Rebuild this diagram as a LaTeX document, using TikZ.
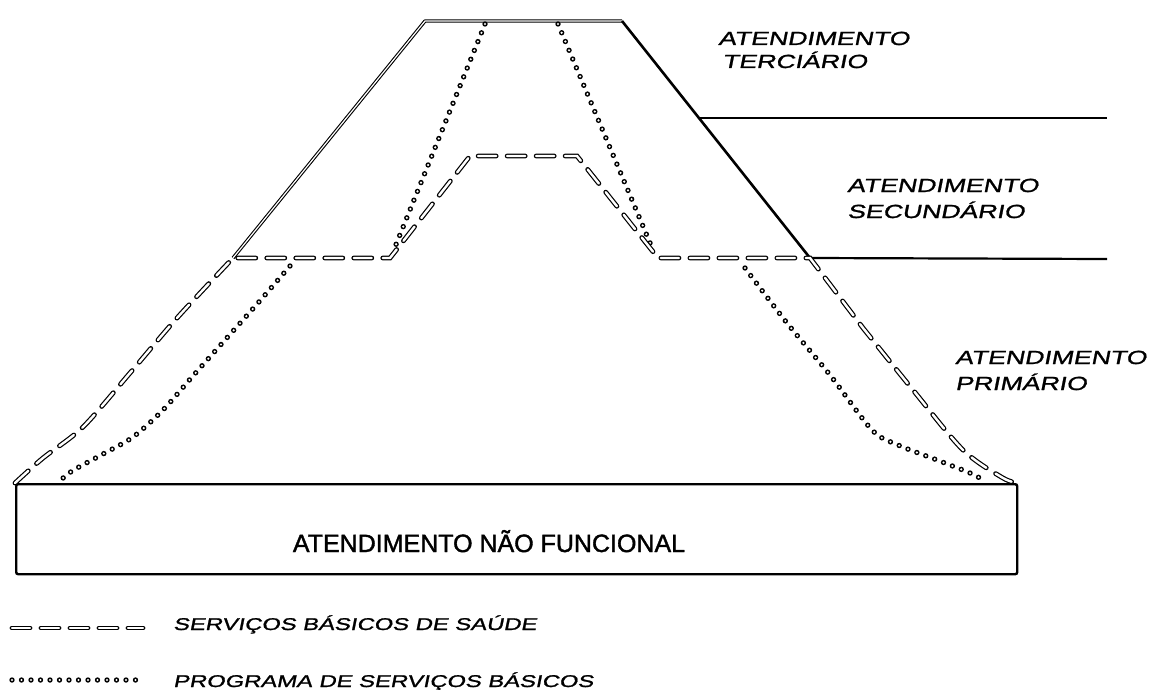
\documentclass[tikz,border=0pt]{standalone}
\usepackage{fontspec}
\newfontfamily\lblfont[FakeStretch=1.4,FakeSlant=0.2,FakeBold=1.2]{Liberation Sans}
\newfontfamily\boxfont[FakeBold=1.5]{Liberation Sans}
\tikzset{
  outline/.style={line width=1.1pt, double=white, double distance=1.2pt, line join=round},
  heavy/.style={line width=2.6pt},
  levelline/.style={line width=2.2pt},
  sbs/.style={line width=1.2pt, double=white, double distance=2.4pt, line cap=round, dash pattern=on 18pt off 11pt},
  psb/.style={line width=1.5pt, double=white, double distance=2.4pt, line cap=round, dash pattern=on 0pt off 9.5pt},
  lbl/.style={font=\lblfont\fontsize{19}{19}\selectfont, inner sep=0pt, anchor=base west},
  leg/.style={font=\lblfont\fontsize{17}{17}\selectfont, inner sep=0pt, anchor=base west},
  boxtxt/.style={font=\boxfont\fontsize{25}{25}\selectfont, inner sep=0pt, anchor=base},
  basebox/.style={draw, line width=2.4pt, rounded corners=2pt, inner sep=0pt, anchor=north west, minimum width=1001pt, minimum height=90pt}
}
\begin{document}
\begin{tikzpicture}[x=1pt,y=-1pt]
\fill[white] (0,0) rectangle (1150,690);
\useasboundingbox (0,0) rectangle (1150,690);
% key points
\coordinate (jl) at (233,258);
\coordinate (tl) at (425,21);
\coordinate (tr) at (622,21);
\coordinate (jr) at (810,258);
\coordinate (ht) at (699,118);
\coordinate (hte) at (1107,118);
\coordinate (hse) at (1107,259);
% base box
\node[basebox] (base) at (15,483) {};
\node[boxtxt] (basetxt) at (489,552) {ATENDIMENTO NÃO FUNCIONAL};
% outer (tertiary) outline
\draw[outline] (jl) -- (tl) -- (tr);
\draw[heavy] (tr) -- (jr);
\draw[levelline] (ht) -- (hte);
\draw[levelline] (jr) -- (hse);
% programa de servicos basicos (dotted)
\draw[psb] (485,24) -- (393,252);
\draw[psb] (558,24) -- (653,250);
\draw[psb] plot[smooth, tension=0.5] coordinates {(290,266) (258,303) (225,340) (192,377) (163,410) (133,437) (103,454) (72,471) (60,481)};
\draw[psb] plot[smooth, tension=0.5] coordinates {(745,268) (787,323) (830,375) (872,430) (898,445) (937,460) (970,473) (985,481)};
% servicos basicos de saude (dashed)
\draw[sbs] plot[smooth, tension=0.5] coordinates {(base.north west) (43,458) (83,427) (130,373) (177,318) (jl)}
  -- (390,258) -- (470,156) -- (577,156) -- (658,258) -- (jr)
  -- plot[smooth, tension=0.5] coordinates {(863,328) (913,390) (963,450) (1003,478) (base.north east)};
% labels
\node[lbl] (l1a) at (718,45) {ATENDIMENTO};
\node[lbl] (l1b) at (722,68) {TERCIÁRIO};
\node[lbl] (l2a) at (847,192) {ATENDIMENTO};
\node[lbl] (l2b) at (847,218) {SECUNDÁRIO};
\node[lbl] (l3a) at (955,364) {ATENDIMENTO};
\node[lbl] (l3b) at (955,390) {PRIMÁRIO};
% legend
\coordinate (k1a) at (12,628);
\coordinate (k1b) at (143,628);
\coordinate (k2a) at (12,680);
\coordinate (k2b) at (143,680);
\draw[sbs] (k1a) -- (k1b);
\draw[psb] (k2a) -- (k2b);
\node[leg] (leg1) at (173,630) {SERVIÇOS BÁSICOS DE SAÚDE};
\node[leg] (leg2) at (173,687) {PROGRAMA DE SERVIÇOS BÁSICOS};
\end{tikzpicture}
\end{document}
